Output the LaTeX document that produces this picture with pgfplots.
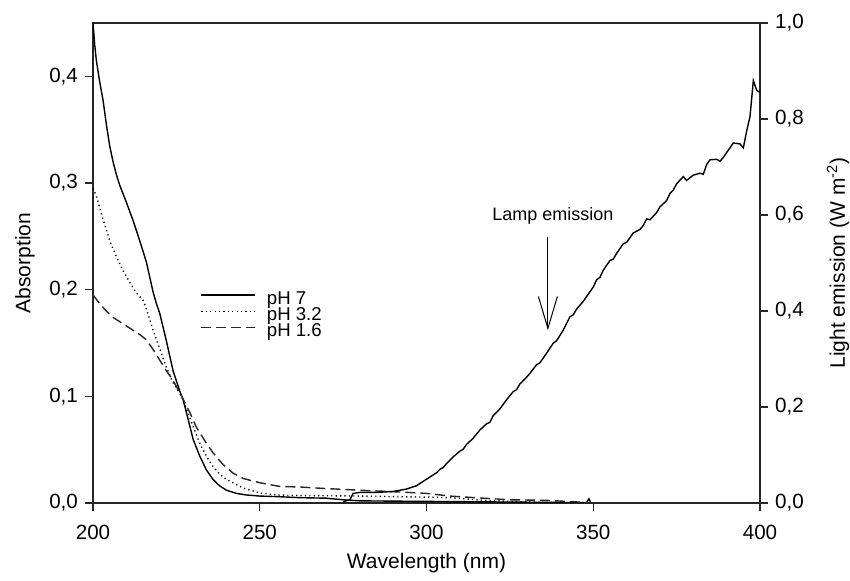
\documentclass[border=0pt]{standalone}
\usepackage{pgfplots}
\pgfplotsset{compat=1.18}
\usepackage{fontspec}
\setmainfont{Liberation Sans}
\usetikzlibrary{arrows.meta}

\pgfplotstableread{
x y
200 0.45
200.5 0.43
201 0.415
202 0.395
203 0.378
204 0.355
205 0.335
206 0.32
207 0.308
208 0.298
209 0.29
210 0.282
212 0.265
214 0.246
215 0.236
216 0.226
217 0.212
218 0.198
219 0.187
220 0.178
222 0.152
224 0.124
226 0.105
227 0.097
228 0.085
230 0.060
232 0.044
234 0.031
236 0.022
238 0.016
240 0.012
243 0.009
246 0.0075
250 0.0065
255 0.006
262 0.005
270 0.0045
275 0.003
280 0.002
300 0.0015
320 0.001
340 0.0005
348 0.0005
348.7 0.004
349.3 0.0
350 0.0
}\phseven

\pgfplotstableread{
x y
200 0.295
201 0.288
202 0.277
203 0.266
204 0.256
205 0.246
207 0.231
209 0.218
211 0.207
213 0.197
215 0.19
216 0.182
218 0.162
220 0.145
222 0.127
224 0.113
226.6 0.1
228 0.088
230 0.072
232 0.056
234 0.044
236 0.034
238 0.027
240 0.022
242 0.019
245 0.014
250 0.0094
255 0.0075
262 0.007
270 0.0068
280 0.0065
290 0.006
300 0.0055
307 0.005
315 0.003
325 0.0015
335 0.0005
345 0
}\phthree

\pgfplotstableread{
x y
200 0.195
202 0.187
204 0.18
206 0.174
208 0.17
210 0.166
212 0.162
214 0.158
216 0.153
218 0.144
220 0.134
222 0.124
224 0.115
226.6 0.1
229 0.085
231 0.071
234 0.056
236 0.047
239 0.036
242 0.028
245 0.023
250 0.019
256 0.0155
262 0.015
270 0.0135
280 0.012
292 0.0103
300 0.009
307 0.0065
316 0.0047
325 0.003
336 0.0025
345 0.001
350 0
}\phone

\pgfplotstableread{
x y
275 0.002
276 0.005
277 0.006
278 0.02
280 0.022
285 0.022
290 0.024
294 0.029
297 0.036
299 0.045
301 0.054
303 0.063
304 0.07
305 0.074
306 0.082
308 0.096
310 0.108
311 0.112
312 0.122
314 0.135
316 0.152
318 0.165
319 0.168
320 0.182
322 0.196
324 0.215
326 0.232
327 0.236
328 0.248
330 0.262
331 0.27
333 0.288
334 0.292
336 0.312
338 0.333
339 0.338
341 0.36
343 0.388
344 0.392
345 0.404
347 0.42
348 0.43
349 0.44
350 0.45
351 0.465
352 0.47
353 0.485
355 0.505
356 0.508
357 0.52
359 0.54
360 0.543
362 0.5625
364 0.57
365 0.578
366 0.592
367 0.59
369 0.605
370 0.617
372 0.63
373 0.645
374 0.652
375 0.665
377 0.68
378 0.672
380 0.683
382 0.687
383 0.685
384 0.705
385 0.715
387 0.716
388 0.712
389 0.72
391 0.74
392 0.75
394 0.748
395 0.74
396 0.775
397 0.805
398 0.88
399 0.86
400 0.855
}\lamp

\begin{document}
\begin{tikzpicture}
\useasboundingbox (-46.5pt,-39pt) rectangle (378.5pt,251.5pt);
\pgfplotsset{
  common/.style={
    width=333.5pt, height=240pt, scale only axis,
    xmin=200, xmax=400,
    tick align=outside,
    major tick length=4pt,
    axis line style={line width=0.7pt, black!85},
    tick style={line width=0.7pt, black!85},
    /pgf/number format/assume math mode=true,
    tick label style={font=\fontsize{10.3}{12}\selectfont},
    label style={font=\fontsize{10.5}{12}\selectfont},
  }
}
\begin{axis}[common,
  ymin=0, ymax=0.45,
  xtick={200,250,300,350,400},
  ytick={0,0.1,0.2,0.3,0.4},
  xtick pos=bottom, ytick pos=left,
  yticklabel style={/pgf/number format/.cd, use comma, fixed, fixed zerofill, precision=1},
  xticklabel style={yshift=-3.75pt},
  xlabel={Wavelength (nm)},
  ylabel={Absorption},
  xlabel style={at={(axis description cs:0.5,-0.125)}, anchor=center},
  ylabel style={at={(axis description cs:-0.102,0.5)}, anchor=center},
  legend style={at={(axis description cs:0.152,0.449)}, anchor=north west, draw=none, fill=none,
    font=\fontsize{9.3}{10}\selectfont, row sep=0pt, column sep=5pt,
    nodes={inner sep=0.4pt, text height=6pt, text depth=1.25pt}},
  legend cell align=left,
  legend image code/.code={\draw[#1] (0pt,2.4pt) -- (27pt,2.4pt);},
]
\addplot[line width=0.7pt, black] table[x=x,y=y] {\phseven};
\addlegendentry{pH 7}
\addplot[line width=0.7pt, black, dash pattern=on 0.6pt off 1.6pt] table[x=x,y=y] {\phthree};
\addlegendentry{pH 3.2}
\addplot[line width=0.7pt, black!85, dash pattern=on 5pt off 2.5pt] table[x=x,y=y] {\phone};
\addlegendentry{pH 1.6}
\draw[line width=0.5pt, -{Straight Barb[length=16pt,width=9.5pt,line width=0.5pt]}] (axis cs:336.4,0.249) -- (axis cs:336.4,0.162);
\node[font=\fontsize{9}{10}\selectfont] at (axis cs:337.9,0.269) {Lamp emission};
\end{axis}
\begin{axis}[common,
  ymin=0, ymax=1,
  axis x line=none,
  axis y line*=right,
  ytick={0,0.2,0.4,0.6,0.8,1.0},
  yticklabel style={/pgf/number format/.cd, use comma, fixed, fixed zerofill, precision=1},
  ylabel={Light emission (W m\textsuperscript{-2})},
  ylabel style={at={(axis description cs:1.117,0.5)}, anchor=center},
]
\addplot[line width=0.7pt, black] table[x=x,y=y] {\lamp};
\end{axis}
\end{tikzpicture}
\end{document}
